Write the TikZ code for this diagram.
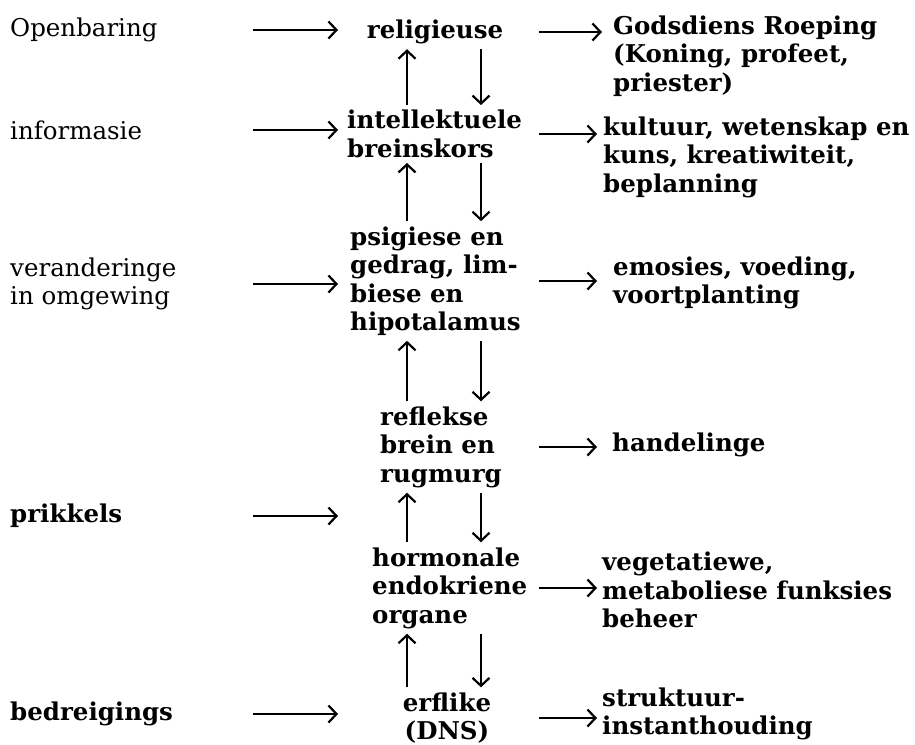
\documentclass[tikz,border=0pt]{standalone}
\usepackage{fontspec}
\setmainfont{DejaVu Serif}
\usetikzlibrary{arrows.meta}

\begin{document}
\begin{tikzpicture}[
    x = 1pt, y = -1pt,
    txt/.style = {font = \bfseries\fontsize{24.5}{28.5}\selectfont, inner sep = 0pt, align = left, anchor = west},
    lft/.style = {txt, font = \mdseries\fontsize{24.5}{28.5}\selectfont},
    mid/.style = {txt, anchor = center, align = center},
    ar/.style = {-{Straight Barb[length=8pt, width=17pt]}, line width = 2.2pt},
    vr/.style = {ar, shorten <= 5pt, shorten >= 5pt},
]
\useasboundingbox (0,0) rectangle (915,744);

% x positions of the arrows
\coordinate (la) at (253,0);
\coordinate (lb) at (338,0);
\coordinate (ra) at (539,0);
\coordinate (rb) at (597,0);
\coordinate (ux) at (407,0);
\coordinate (dx) at (481,0);

% left column
\node[lft] (ob)  at (10, 30)  {Openbaring};
\node[lft] (inf) at (10, 130) {informasie};
\node[lft] (ver) at (10, 284) {veranderinge\\in omgewing};
\node[txt] (pri) at (10, 516) {prikkels};
\node[txt] (bed) at (10, 714) {bedreigings};

% middle column
\node[mid] (rel) at (435, 32)  {religieuse};
\node[txt] (int) at (347, 134) {intellektuele\\breinskors};
\node[txt] (psi) at (350, 281) {psigiese en\\gedrag, lim-\\biese en\\hipotalamus};
\node[txt] (ref) at (380, 447) {reflekse\\brein en\\rugmurg};
\node[txt] (hor) at (372, 588) {hormonale\\endokriene\\organe};
\node[mid] (erf) at (447, 718) {erflike\\(DNS)};

% right column
\node[txt] (god) at (613, 56)  {Godsdiens Roeping\\(Koning, profeet,\\priester)};
\node[txt] (kul) at (603, 157) {kultuur, wetenskap en\\kuns, kreatiwiteit,\\beplanning};
\node[txt] (emo) at (613, 283) {emosies, voeding,\\voortplanting};
\node[txt] (han) at (612, 445) {handelinge};
\node[txt] (veg) at (602, 590) {vegetatiewe,\\metaboliese funksies\\beheer};
\node[txt] (str) at (602, 714) {struktuur-\\instanthouding};

% inputs
\foreach \n in {ob, inf, ver, pri, bed}
  \draw[ar] (\n -| la) -- (\n -| lb);

% outputs
\draw[ar, shorten >= 11pt] (rel -| ra) -- (rel -| god.west);
\foreach \n in {int, psi, ref, hor, erf}
  \draw[ar] (\n -| ra) -- (\n -| rb);

% up and down
\foreach \a/\b in {rel/int, int/psi, psi/ref, ref/hor, hor/erf} {
  \draw[vr] (\b.north -| ux) -- (\a.south -| ux);
  \draw[vr] (\a.south -| dx) -- (\b.north -| dx);
}
\end{tikzpicture}
\end{document}
